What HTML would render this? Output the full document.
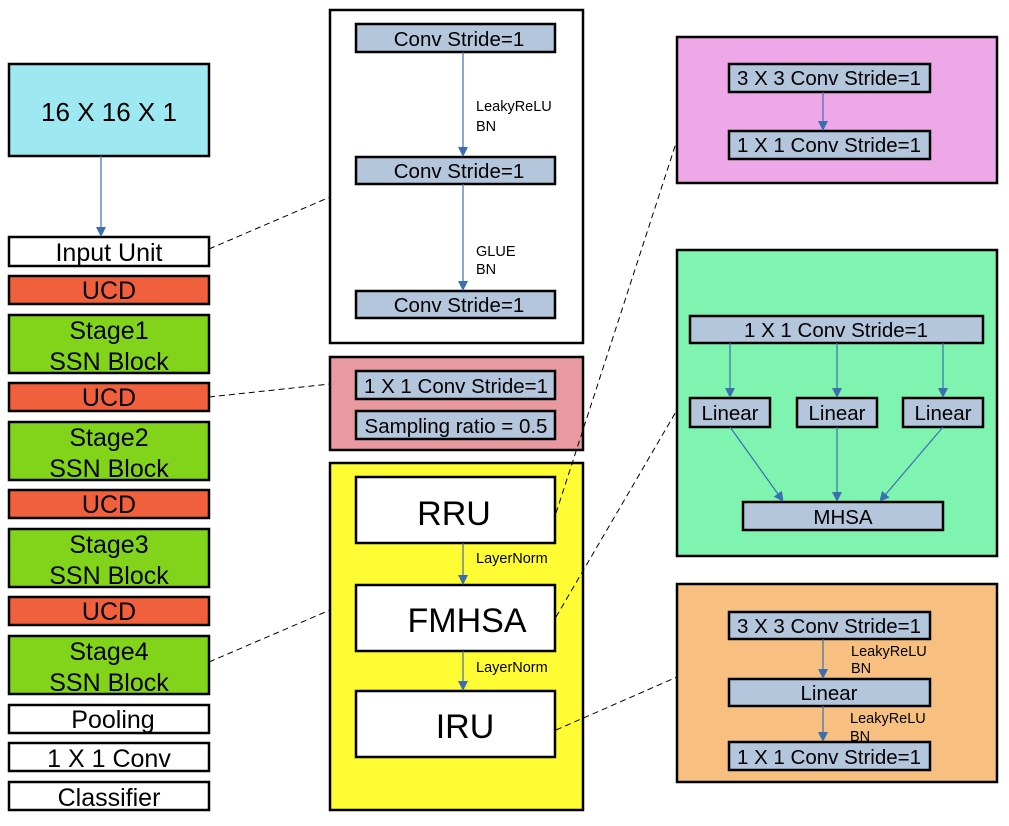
<!DOCTYPE html>
<html><head><meta charset="utf-8"><style>
body{margin:0;background:#fff}
svg text{font-family:"Liberation Sans",sans-serif;fill:#000}
</style></head><body>
<svg width="1009" height="821" viewBox="0 0 1009 821" xmlns="http://www.w3.org/2000/svg">
<defs><marker id="a" markerWidth="10" markerHeight="10" refX="9" refY="5" orient="auto" markerUnits="userSpaceOnUse"><path d="M0,0 L10,5 L0,10 Z" fill="#3d6fb0"/></marker></defs>
<g stroke="#000" stroke-width="2.5">
<rect x="9" y="64" width="200" height="92" fill="#9ee9f1"/>
<rect x="9" y="237" width="200" height="29" fill="#fff"/>
<rect x="9" y="276" width="200" height="28" fill="#f0603c"/>
<rect x="9" y="315" width="200" height="58" fill="#82d41a"/>
<rect x="9" y="383" width="200" height="28" fill="#f0603c"/>
<rect x="9" y="422" width="200" height="58" fill="#82d41a"/>
<rect x="9" y="490" width="200" height="28" fill="#f0603c"/>
<rect x="9" y="529" width="200" height="58" fill="#82d41a"/>
<rect x="9" y="597" width="200" height="28" fill="#f0603c"/>
<rect x="9" y="636" width="200" height="58" fill="#82d41a"/>
<rect x="9" y="705" width="200" height="28" fill="#fff"/>
<rect x="9" y="743" width="200" height="28" fill="#fff"/>
<rect x="9" y="782" width="200" height="28" fill="#fff"/>
<rect x="330" y="10" width="253" height="333" fill="#fff"/>
<rect x="356" y="24" width="199" height="28" fill="#b4c6dc"/>
<rect x="356" y="157" width="199" height="27" fill="#b4c6dc"/>
<rect x="356" y="291" width="199" height="27" fill="#b4c6dc"/>
<rect x="330" y="357" width="253" height="93" fill="#e99aa1"/>
<rect x="356" y="371" width="199" height="28" fill="#b4c6dc"/>
<rect x="356" y="411" width="199" height="28" fill="#b4c6dc"/>
<rect x="330" y="463" width="253" height="347" fill="#fffc33"/>
<rect x="356" y="477" width="199" height="66" fill="#fff"/>
<rect x="356" y="585" width="199" height="66" fill="#fff"/>
<rect x="356" y="691" width="199" height="66" fill="#fff"/>
<rect x="677" y="37" width="320" height="146" fill="#efa8e7"/>
<rect x="729" y="64" width="201" height="28" fill="#b4c6dc"/>
<rect x="729" y="131" width="201" height="28" fill="#b4c6dc"/>
<rect x="677" y="250" width="320" height="306" fill="#7ff4b0"/>
<rect x="690" y="316" width="293" height="27" fill="#b4c6dc"/>
<rect x="690" y="398" width="80" height="29" fill="#b4c6dc"/>
<rect x="797" y="398" width="80" height="29" fill="#b4c6dc"/>
<rect x="903" y="398" width="80" height="29" fill="#b4c6dc"/>
<rect x="743" y="502" width="200" height="28" fill="#b4c6dc"/>
<rect x="677" y="584" width="320" height="198" fill="#f7c080"/>
<rect x="729" y="612" width="201" height="27" fill="#b4c6dc"/>
<rect x="729" y="679" width="201" height="27" fill="#b4c6dc"/>
<rect x="729" y="742" width="201" height="28" fill="#b4c6dc"/>
</g>
<g stroke="#3d6fb0" stroke-width="1.2" marker-end="url(#a)">
<line x1="101" y1="156" x2="101" y2="236"/>
<line x1="463" y1="52" x2="463" y2="156"/>
<line x1="463" y1="184" x2="463" y2="290"/>
<line x1="463" y1="543" x2="463" y2="584"/>
<line x1="463" y1="651" x2="463" y2="690"/>
<line x1="823" y1="92" x2="823" y2="130"/>
<line x1="730" y1="343" x2="730" y2="397"/>
<line x1="837" y1="343" x2="837" y2="397"/>
<line x1="943" y1="343" x2="943" y2="397"/>
<line x1="730" y1="427" x2="783" y2="501"/>
<line x1="837" y1="427" x2="837" y2="501"/>
<line x1="943" y1="427" x2="880" y2="501"/>
<line x1="823" y1="639" x2="823" y2="678"/>
<line x1="823" y1="706" x2="823" y2="741"/>
</g>
<g stroke="#000" stroke-width="1" stroke-dasharray="6,4" fill="none">
<line x1="209" y1="249" x2="330" y2="197"/>
<line x1="209" y1="397" x2="330" y2="384"/>
<line x1="209" y1="662" x2="330" y2="610"/>
<line x1="556" y1="513" x2="677" y2="140"/>
<line x1="556" y1="617" x2="677" y2="410"/>
<line x1="556" y1="730" x2="677" y2="677"/>
</g>
<g font-size="25" text-anchor="middle">
<text x="109" y="121" font-size="26">16 X 16 X 1</text>
<text x="109" y="261">Input Unit</text>
<text x="109" y="299">UCD</text>
<text x="109" y="339">Stage1</text><text x="109" y="370">SSN Block</text>
<text x="109" y="406">UCD</text>
<text x="109" y="446">Stage2</text><text x="109" y="477">SSN Block</text>
<text x="109" y="513">UCD</text>
<text x="109" y="553">Stage3</text><text x="109" y="584">SSN Block</text>
<text x="109" y="620">UCD</text>
<text x="109" y="660">Stage4</text><text x="109" y="691">SSN Block</text>
<text x="113" y="728">Pooling</text>
<text x="109" y="767">1 X 1 Conv</text>
<text x="109" y="806">Classifier</text>
</g>
<g font-size="20.5" text-anchor="middle">
<text x="459" y="46">Conv Stride=1</text>
<text x="459" y="178">Conv Stride=1</text>
<text x="459" y="312">Conv Stride=1</text>
<text x="456" y="393">1 X 1 Conv Stride=1</text>
<text x="456" y="433">Sampling ratio = 0.5</text>
<text x="829" y="85">3 X 3 Conv Stride=1</text>
<text x="829" y="152">1 X 1 Conv Stride=1</text>
<text x="836" y="337">1 X 1 Conv Stride=1</text>
<text x="730" y="420">Linear</text>
<text x="837" y="420">Linear</text>
<text x="943" y="420">Linear</text>
<text x="843" y="524">MHSA</text>
<text x="829" y="633">3 X 3 Conv Stride=1</text>
<text x="829" y="700">Linear</text>
<text x="829" y="764">1 X 1 Conv Stride=1</text>
</g>
<g font-size="34" text-anchor="middle">
<text x="454" y="525">RRU</text>
<text x="467" y="632">FMHSA</text>
<text x="465" y="738">IRU</text>
</g>
<g font-size="14.5">
<text x="476" y="111">LeakyReLU</text><text x="476" y="131">BN</text>
<text x="476" y="256">GLUE</text><text x="476" y="274">BN</text>
<text x="476" y="563">LayerNorm</text>
<text x="476" y="672">LayerNorm</text>
<text x="851" y="656">LeakyReLU</text><text x="851" y="673">BN</text>
<text x="850" y="723">LeakyReLU</text><text x="850" y="741">BN</text>
</g>
</svg>
</body></html>
